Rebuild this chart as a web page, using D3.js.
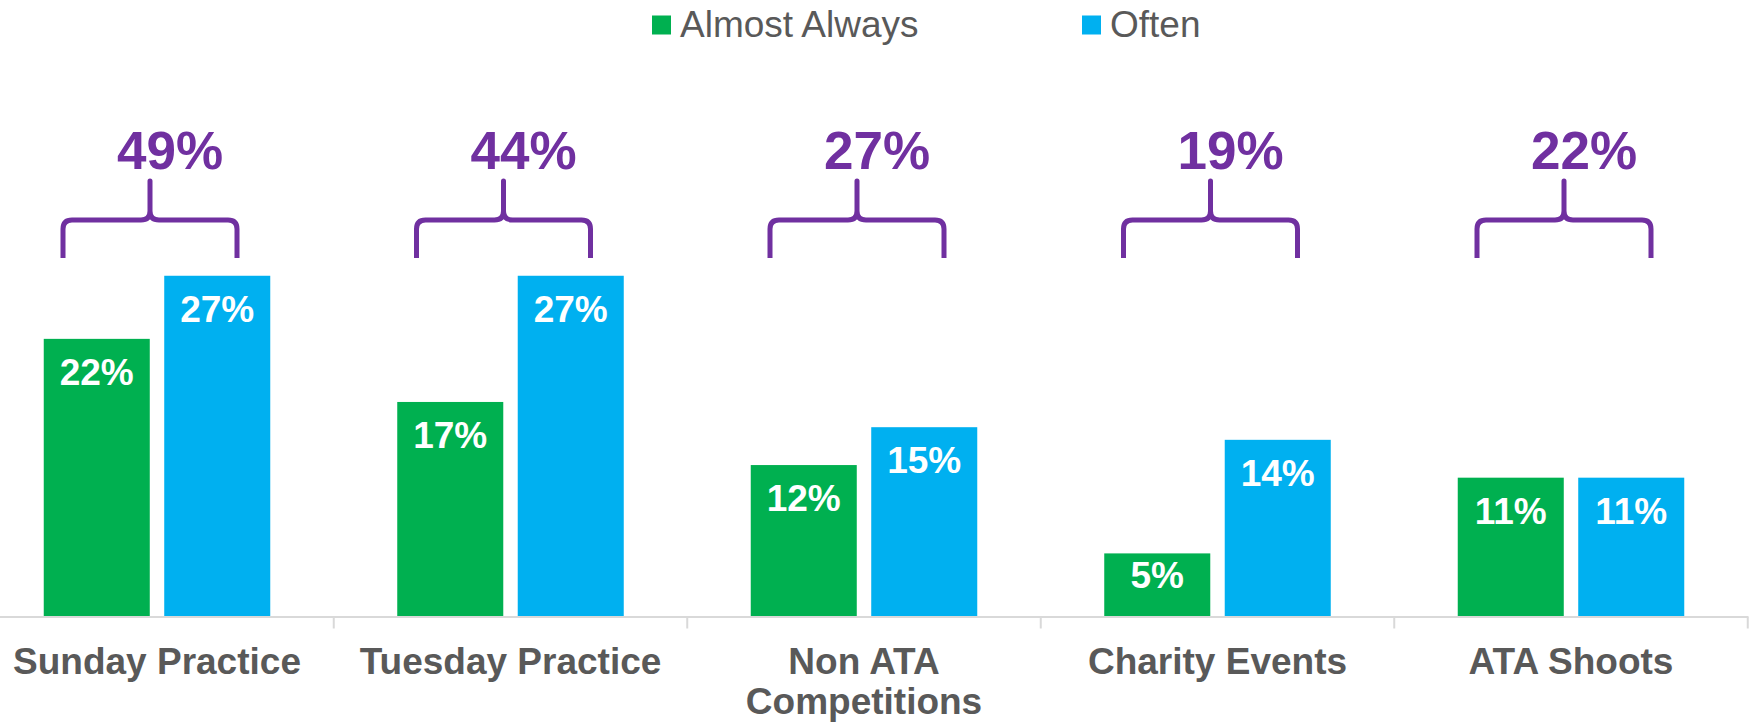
<!DOCTYPE html>
<html>
<head>
<meta charset="utf-8">
<script src="https://cdn.jsdelivr.net/npm/d3@7"></script>
<style>
  html, body { margin: 0; padding: 0; background: #fff; }
  svg { display: block; font-family: "Liberation Sans", Arial, sans-serif; }
</style>
</head>
<body>
<div id="chart"></div>
<script>
const categories = ["Sunday Practice", "Tuesday Practice", "Non ATA Competitions", "Charity Events", "ATA Shoots"];
const series = ["Almost Always", "Often"];
const almostAlways = [22, 17, 12, 5, 11];
const often = [27, 27, 15, 14, 11];
const totals = [49, 44, 27, 19, 22];

const colors = ["#00B050", "#00B0F0"];
const purple = "#7030A0";
const grey = "#595959";

const w = 1750, h = 724;
const baseY = 616.5;

const svg = d3.select("#chart").append("svg")
  .attr("width", w)
  .attr("height", h);

// scales
const x0 = d3.scaleBand()
  .domain(categories)
  .range([-19.75, 1747.75])
  .padding(0);

const x1 = d3.scaleBand()
  .domain(series)
  .range([0, x0.bandwidth()])
  .paddingInner(0.12)
  .paddingOuter(0.527);

const y = d3.scaleLinear()
  .domain([0, 30])
  .range([baseY, baseY - 30 * 12.62]);

const rows = categories.map((c, i) => ({
  cat: c,
  vals: [almostAlways[i], often[i]],
  total: totals[i]
}));

// bars
const groups = svg.selectAll("g.grp")
  .data(rows)
  .enter().append("g")
  .attr("class", "grp")
  .attr("transform", d => "translate(" + x0(d.cat) + ",0)");

groups.selectAll("rect")
  .data(d => d.vals.map((v, j) => ({ s: series[j], v: v, j: j })))
  .enter().append("rect")
  .attr("x", d => x1(d.s))
  .attr("y", d => y(d.v))
  .attr("width", x1.bandwidth())
  .attr("height", d => baseY - y(d.v))
  .attr("fill", d => colors[d.j]);

groups.selectAll("text.val")
  .data(d => d.vals.map((v, j) => ({ s: series[j], v: v })))
  .enter().append("text")
  .attr("class", "val")
  .attr("x", d => x1(d.s) + x1.bandwidth() / 2)
  .attr("y", d => Math.min(y(d.v) + 46, baseY - 29))
  .attr("text-anchor", "middle")
  .attr("font-size", 37)
  .attr("font-weight", "bold")
  .attr("fill", "#fff")
  .text(d => d.v + "%");

// braces + totals
const braceBottom = 258;
const half = 87, r = 9;
groups.append("path")
  .attr("d", () => {
    const cx = x0.bandwidth() / 2 - 7;
    const a = cx - half, b = cx + half;
    const hy = braceBottom - 38, tip = braceBottom - 77;
    return "M" + a + "," + braceBottom +
      " L" + a + "," + (hy + r) +
      " Q" + a + "," + hy + " " + (a + r) + "," + hy +
      " L" + (cx - r) + "," + hy +
      " Q" + cx + "," + hy + " " + cx + "," + (hy - r) +
      " L" + cx + "," + tip +
      " L" + cx + "," + (hy - r) +
      " Q" + cx + "," + hy + " " + (cx + r) + "," + hy +
      " L" + (b - r) + "," + hy +
      " Q" + b + "," + hy + " " + b + "," + (hy + r) +
      " L" + b + "," + braceBottom;
  })
  .attr("fill", "none")
  .attr("stroke", purple)
  .attr("stroke-width", 5)
  .attr("stroke-linejoin", "round");

groups.append("text")
  .attr("x", x0.bandwidth() / 2 + 13)
  .attr("y", braceBottom - 89)
  .attr("text-anchor", "middle")
  .attr("font-size", 53)
  .attr("font-weight", "bold")
  .attr("fill", purple)
  .text(d => d.total + "%");

// x axis
const xAxis = d3.axisBottom(x0).tickSize(0).tickPadding(0);
const ax = svg.append("g")
  .attr("transform", "translate(0," + baseY + ")")
  .call(xAxis);
ax.select(".domain").attr("stroke", "#D9D9D9").attr("stroke-width", 2);
ax.selectAll(".tick text")
  .attr("y", 57)
  .attr("dy", 0)
  .attr("font-size", 37)
  .attr("font-weight", "bold")
  .attr("fill", grey)
  .attr("font-family", "'Liberation Sans', Arial, sans-serif")
  .call(wrap, x0.bandwidth() - 20);

// boundary ticks between categories
ax.selectAll("line.sep")
  .data(categories)
  .enter().append("line")
  .attr("class", "sep")
  .attr("x1", d => x0(d) + x0.bandwidth())
  .attr("x2", d => x0(d) + x0.bandwidth())
  .attr("y1", 0)
  .attr("y2", 12)
  .attr("stroke", "#D9D9D9")
  .attr("stroke-width", 2);

function wrap(sel, width) {
  sel.each(function() {
    const t = d3.select(this);
    const words = t.text().split(/\s+/);
    const yy = t.attr("y");
    t.text(null);
    let line = [];
    let n = 0;
    let ts = t.append("tspan").attr("x", 0).attr("y", yy);
    words.forEach(word => {
      line.push(word);
      ts.text(line.join(" "));
      if (ts.node().getComputedTextLength() > width && line.length > 1) {
        line.pop();
        ts.text(line.join(" "));
        line = [word];
        n++;
        ts = t.append("tspan").attr("x", 0).attr("y", +yy + n * 40).text(word);
      }
    });
  });
}

// legend
const legend = svg.append("g");
const legendX = [652, 1082];
series.forEach((s, i) => {
  legend.append("rect")
    .attr("x", legendX[i]).attr("y", 15.5)
    .attr("width", 19).attr("height", 19)
    .attr("fill", colors[i]);
  legend.append("text")
    .attr("x", legendX[i] + 28).attr("y", 36.5)
    .attr("font-size", 37)
    .attr("fill", grey)
    .text(s);
});
</script>
</body>
</html>
